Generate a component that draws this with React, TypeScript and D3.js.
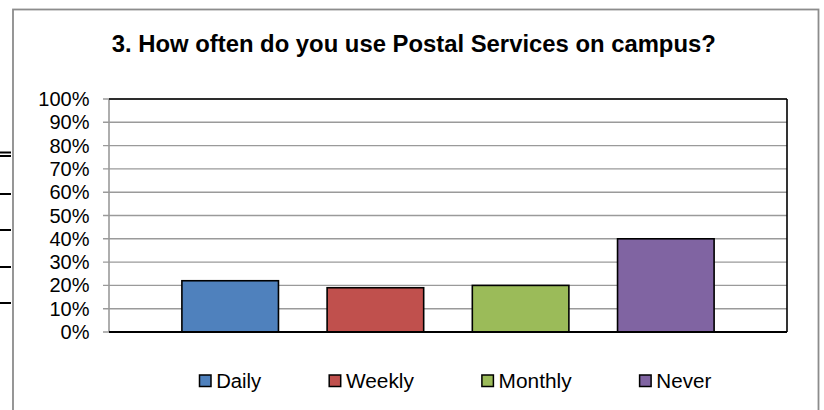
import React from "react";
import * as d3 from "d3";

const categories = ["Daily", "Weekly", "Monthly", "Never"];
const values = [22, 19, 20, 40];
const colors = ["#4F81BD", "#C0504D", "#9BBB59", "#8064A2"];
const yTicks = [0, 10, 20, 30, 40, 50, 60, 70, 80, 90, 100];
const title = "3. How often do you use Postal Services on campus?";
const edgeLines = [152.5, 156, 194, 230, 267, 303];

const W = 824;
const H = 410;
const plot = { left: 109, right: 787, top: 99, bottom: 332 };
const FONT = "'Liberation Sans', Arial, Helvetica, sans-serif";

export default function App() {
  const x = d3
    .scaleBand<string>()
    .domain(categories)
    .range([plot.left, plot.right])
    .paddingInner(0.335)
    .paddingOuter(0.502);
  const y = d3.scaleLinear().domain([0, 100]).range([plot.bottom, plot.top]);

  // legend layout
  const legendStart = 199.5;
  const legendY = 381;
  const textW: Record<string, number> = { Daily: 45, Weekly: 68, Monthly: 73, Never: 55 };
  const widths = categories.map((c) => textW[c] ?? c.length * 9.5);
  const legendX: number[] = [];
  let cx = legendStart;
  widths.forEach((w) => {
    legendX.push(cx);
    cx += 16.7 + w + 68;
  });

  return (
    <svg
      width={W}
      height={H}
      style={{ position: "fixed", left: 0, top: 0, background: "#fff" }}
      fontFamily={FONT}
    >
      <rect x={0} y={0} width={W} height={H} fill="#fff" />
      {edgeLines.map((ly, i) => (
        <line key={i} x1={0} x2={11} y1={ly} y2={ly} stroke="#000" strokeWidth={2} />
      ))}
      <rect x={13} y={9.5} width={805.5} height={H + 10} fill="none" stroke="#8c8c8c" strokeWidth={1.8} />
      <text
        x={413.8}
        y={51.5}
        textAnchor="middle"
        fontSize={23.5}
        fontWeight="bold"
        textLength={604}
        lengthAdjust="spacingAndGlyphs"
      >
        {title}
      </text>
      {yTicks.map((t) => (
        <g key={t}>
          <line x1={plot.left - 6} x2={plot.right} y1={y(t)} y2={y(t)} stroke="#9a9a9a" strokeWidth={1.4} />
          <text x={89.5} y={y(t) + 7} textAnchor="end" fontSize={20}>
            {t + "%"}
          </text>
        </g>
      ))}
      <line x1={plot.left} x2={plot.left} y1={plot.top} y2={plot.bottom} stroke="#9a9a9a" strokeWidth={1.6} />
      <line x1={plot.left} x2={plot.right} y1={plot.top} y2={plot.top} stroke="#000" strokeWidth={1.6} />
      <line x1={plot.right} x2={plot.right} y1={plot.top} y2={plot.bottom} stroke="#000" strokeWidth={1.6} />
      {categories.map((c, i) => (
        <rect
          key={c}
          x={x(c)}
          y={y(values[i])}
          width={x.bandwidth()}
          height={plot.bottom - y(values[i])}
          fill={colors[i]}
          stroke="#000"
          strokeWidth={1.6}
        />
      ))}
      <line x1={plot.left} x2={plot.right} y1={plot.bottom} y2={plot.bottom} stroke="#000" strokeWidth={1.8} />
      {categories.map((c, i) => (
        <g key={c}>
          <rect
            x={legendX[i]}
            y={legendY - 6}
            width={11.5}
            height={11.5}
            fill={colors[i]}
            stroke="#000"
            strokeWidth={1.5}
          />
          <text
            x={legendX[i] + 16.7}
            y={legendY + 7.2}
            fontSize={20}
            textLength={widths[i]}
            lengthAdjust="spacingAndGlyphs"
          >
            {c}
          </text>
        </g>
      ))}
    </svg>
  );
}
